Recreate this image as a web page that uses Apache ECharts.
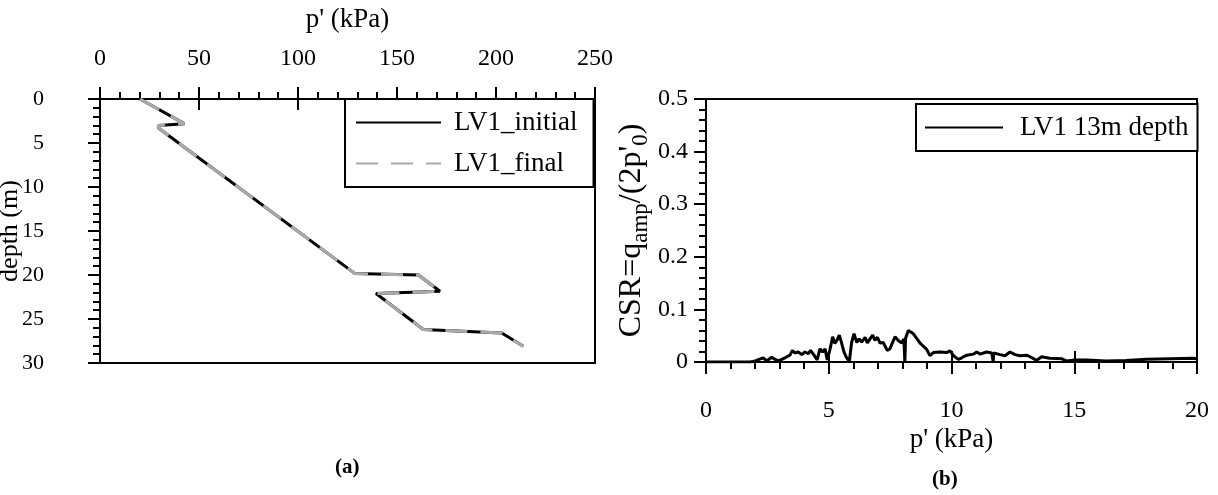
<!DOCTYPE html>
<html>
<head>
<meta charset="utf-8">
<script src="https://cdn.jsdelivr.net/npm/echarts@6/dist/echarts.min.js"></script>
<style>html,body{margin:0;padding:0;background:#fff}#c{width:1218px;height:495px}</style>
</head>
<body>
<div id="c"></div>
<script>
// ---- Data: (a) effective stress profile ----
const profileP = [20.2, 42.6, 29.5, 29.5, 128.8, 160.8, 171.7, 139.4, 163.3, 202.9, 213.8];
const profileDepth = [0, 2.8, 3.0, 3.3, 19.84, 20.0, 21.85, 22.1, 26.2, 26.6, 28.1];
const finalP = [20.2, 42.6, 29.5, 29.5, 128.8, 160.8, 171.7, 139.4, 163.3, 202.9, 213.8];
const finalDepth = [0, 2.8, 3.0, 3.3, 19.84, 20.0, 21.85, 22.1, 26.2, 26.6, 28.1];
const profileTicksX = [0, 50, 100, 150, 200, 250];
const profileTicksY = [0, 5, 10, 15, 20, 25, 30];

// ---- Data: (b) CSR vs p' ----
const csrP = [0, 1.8, 2.0, 2.33, 2.47, 2.67, 2.81, 2.95, 3.22, 3.42, 3.52, 3.62, 3.76, 3.9, 4.03, 4.17, 4.26, 4.4, 4.53, 4.64, 4.75, 4.85, 4.94, 5.05, 5.16, 5.25, 5.35, 5.43, 5.53, 5.62, 5.73, 5.84, 5.93, 6.03, 6.14, 6.24, 6.34, 6.48, 6.57, 6.68, 6.79, 6.88, 6.98, 7.09, 7.22, 7.38, 7.49, 7.7, 7.83, 7.97, 8.06, 8.1, 8.13, 8.24, 8.31, 8.44, 8.58, 8.72, 8.85, 8.99, 9.12, 9.26, 9.53, 9.8, 9.94, 10.08, 10.28, 10.42, 10.62, 10.89, 11.03, 11.16, 11.43, 11.64, 11.7, 11.72, 11.77, 11.98, 12.18, 12.38, 12.59, 12.79, 13.06, 13.2, 13.47, 13.67, 14.0, 14.5, 14.68, 15.03, 15.5, 16.3, 17.1, 17.94, 18.9, 19.85, 20];
const csrVal = [0, 0, 0.002, 0.008, 0.002, 0.009, 0.005, 0.002, 0.008, 0.013, 0.022, 0.017, 0.019, 0.014, 0.019, 0.016, 0.022, 0.013, 0.004, 0.025, 0.019, 0.025, 0.004, 0.024, 0.048, 0.035, 0.043, 0.051, 0.035, 0.019, 0.008, 0.001, 0.037, 0.054, 0.037, 0.044, 0.038, 0.047, 0.036, 0.044, 0.051, 0.041, 0.047, 0.036, 0.037, 0.022, 0.025, 0.048, 0.041, 0.036, 0.044, 0, 0.045, 0.06, 0.063, 0.054, 0.045, 0.036, 0.03, 0.024, 0.012, 0.018, 0.019, 0.018, 0.021, 0.012, 0.005, 0.008, 0.013, 0.015, 0.019, 0.015, 0.019, 0.017, 0.0, 0.017, 0.017, 0.014, 0.012, 0.019, 0.014, 0.012, 0.013, 0.01, 0.003, 0.01, 0.007, 0.006, 0.002, 0.004, 0.004, 0.002, 0.003, 0.005, 0.006, 0.007, 0.006];
const csrTicksX = [0, 5, 10, 15, 20];
const csrTicksY = [0, 0.1, 0.2, 0.3, 0.4, 0.5];

const FONT = 'Liberation Serif';
const chart = echarts.init(document.getElementById('c'), null, {renderer: 'canvas'});

function baseAxis(extra) {
  return Object.assign({
    type: 'value',
    nameMoveOverlap: false,
    splitLine: {show: false},
    axisLine: {show: true, lineStyle: {color: '#000', width: 2}},
    axisTick: {show: true, inside: false, length: 12, lineStyle: {color: '#000', width: 2}},
    minorTick: {show: true, splitNumber: 5, length: 7, lineStyle: {color: '#000', width: 2}},
    axisLabel: {color: '#000', fontFamily: FONT, fontSize: 24},
    nameTextStyle: {color: '#000', fontFamily: FONT, fontSize: 27}
  }, extra);
}
function innerAxis(extra) {
  return Object.assign({
    type: 'value',
    splitLine: {show: false},
    axisLine: {show: false},
    axisLabel: {show: false},
    axisTick: {show: true, inside: true, length: 11, lineStyle: {color: '#000', width: 2}},
    minorTick: {show: false}
  }, extra);
}

const pX = profileTicksX, pY = profileTicksY, cX = csrTicksX, cY = csrTicksY;
const noIcon = {color: 'rgba(0,0,0,0)', borderColor: 'rgba(0,0,0,0)', borderWidth: 0, opacity: 0};

chart.setOption({
  animation: false,
  backgroundColor: '#fff',
  grid: [
    {left: 100, top: 99, width: 495, height: 264, outerBoundsMode: 'none', containLabel: false,
      show: true, borderColor: '#000', borderWidth: 2, backgroundColor: 'transparent'},
    {left: 706, top: 99, width: 491, height: 263, outerBoundsMode: 'none', containLabel: false,
      show: true, borderColor: '#000', borderWidth: 2, backgroundColor: 'transparent'}
  ],
  xAxis: [
    baseAxis({gridIndex: 0, position: 'top', min: pX[0], max: pX[pX.length - 1], interval: pX[1] - pX[0],
      name: "p' (kPa)", nameLocation: 'middle', nameGap: 66, axisLabel: {color: '#000', fontFamily: FONT, fontSize: 24, margin: 28}}),
    innerAxis({gridIndex: 0, position: 'top', min: pX[0], max: pX[pX.length - 1], interval: pX[1] - pX[0]}),
    baseAxis({gridIndex: 1, position: 'bottom', min: cX[0], max: cX[cX.length - 1], interval: cX[1] - cX[0],
      name: "p' (kPa)", nameLocation: 'middle', nameGap: 64, axisLabel: {color: '#000', fontFamily: FONT, fontSize: 24, margin: 37}}),
    innerAxis({gridIndex: 1, position: 'bottom', min: cX[0], max: cX[cX.length - 1], interval: cX[1] - cX[0]})
  ],
  yAxis: [
    baseAxis({gridIndex: 0, inverse: true, min: pY[0], max: pY[pY.length - 1], interval: pY[1] - pY[0],
      name: 'depth (m)', nameLocation: 'middle', nameRotate: 90, nameGap: 77,
      nameTextStyle: {color: '#000', fontFamily: FONT, fontSize: 26},
      axisLabel: {color: '#000', fontFamily: FONT, fontSize: 22, margin: 56}}),
    innerAxis({gridIndex: 0, inverse: true, min: pY[0], max: pY[pY.length - 1], interval: pY[1] - pY[0]}),
    baseAxis({gridIndex: 1, min: cY[0], max: cY[cY.length - 1], interval: 0.1,
      name: "CSR=q{s|amp}/(2p'{s|0})", nameLocation: 'middle', nameRotate: 90, nameGap: 74,
      nameTextStyle: {color: '#000', fontFamily: FONT, fontSize: 32, lineHeight: 41, verticalAlign: 'middle',
        rich: {s: {fontFamily: FONT, fontSize: 23, lineHeight: 23, verticalAlign: 'bottom', color: '#000'}}},
      axisLabel: {color: '#000', fontFamily: FONT, fontSize: 24, margin: 18}}),
    innerAxis({gridIndex: 1, min: cY[0], max: cY[cY.length - 1], interval: 0.1})
  ],
  legend: [
    {left: 345, top: 99, orient: 'vertical', data: ['LV1_initial', 'LV1_final'],
      borderColor: '#000', borderWidth: 2, padding: [10, 16, 10, 10], itemGap: 14, itemWidth: 85, itemHeight: 14,
      backgroundColor: '#fff', itemStyle: noIcon,
      textStyle: {color: '#000', fontFamily: FONT, fontSize: 27, padding: [0, 0, 0, 8]}},
    {left: 916, top: 104, orient: 'vertical', data: ['LV1 13m depth'],
      borderColor: '#000', borderWidth: 2, padding: [10, 9, 10, 8], itemWidth: 78, itemHeight: 14,
      backgroundColor: '#fff', itemStyle: noIcon,
      textStyle: {color: '#000', fontFamily: FONT, fontSize: 27, padding: [0, 0, 0, 12]}}
  ],
  graphic: [
    {type: 'text', left: 335, top: 457, style: {text: '(a)', font: 'bold 21px "Liberation Serif"', fill: '#000'}},
    {type: 'text', left: 932, top: 469, style: {text: '(b)', font: 'bold 21px "Liberation Serif"', fill: '#000'}}
  ],
  series: [
    {name: 'LV1_initial', type: 'line', xAxisIndex: 0, yAxisIndex: 0, symbol: 'none', showSymbol: false,
      lineStyle: {color: '#000', width: 3}, itemStyle: {color: '#000'},
      data: profileP.map((p, i) => [p, profileDepth[i]])},
    {name: 'LV1_final', type: 'line', xAxisIndex: 0, yAxisIndex: 0, symbol: 'none', showSymbol: false,
      lineStyle: {color: '#aaaaaa', width: 3, type: [22, 13]}, itemStyle: {color: '#aaaaaa'},
      data: finalP.map((p, i) => [p, finalDepth[i]])},
    {name: 'LV1 13m depth', type: 'line', xAxisIndex: 2, yAxisIndex: 2, symbol: 'none', showSymbol: false,
      lineStyle: {color: '#000', width: 3}, itemStyle: {color: '#000'},
      data: csrP.map((p, i) => [p, csrVal[i]])}
  ]
});
</script>
</body>
</html>
